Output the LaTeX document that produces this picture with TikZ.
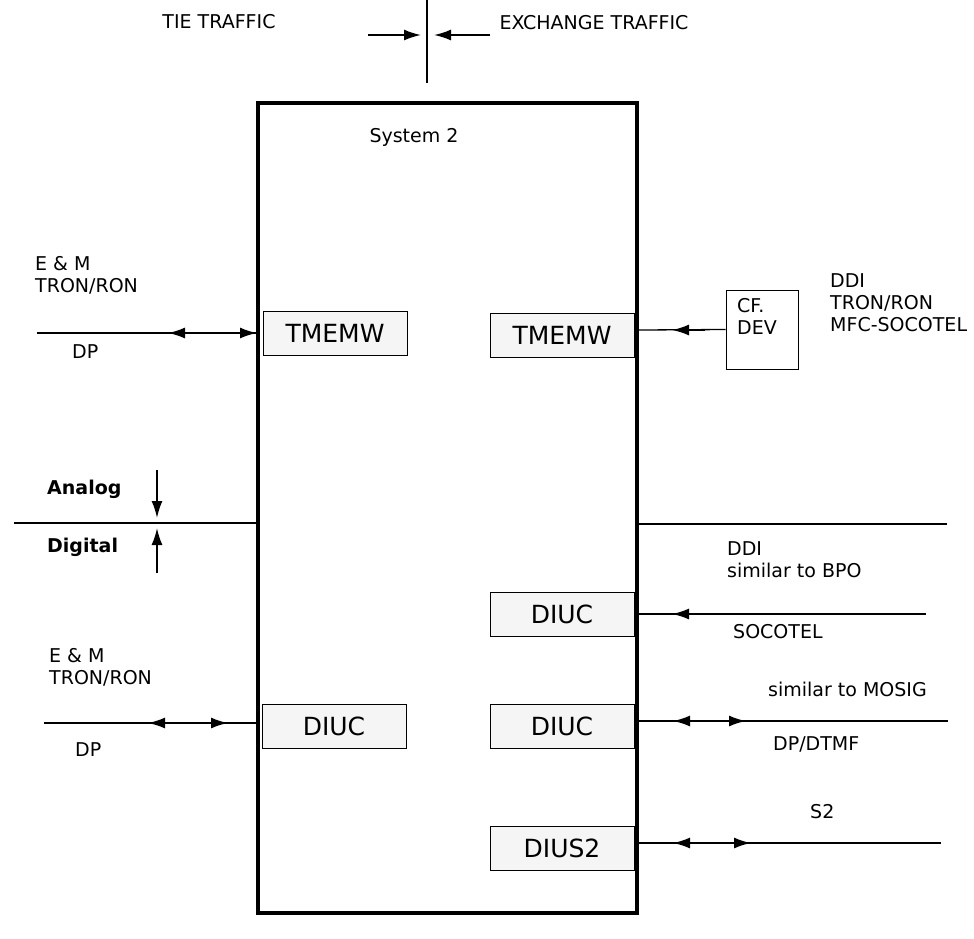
\documentclass[tikz,border=0pt]{standalone}
\usepackage{fontspec}
\setmainfont{DejaVu Sans}
\usetikzlibrary{arrows.meta}
\begin{document}
\begin{tikzpicture}[x=1pt,y=-1pt,
 ln/.style={line width=1.3pt},
 ar/.style={line width=1.8pt,-{Latex[length=17pt,width=11pt]}},
 dar/.style={line width=1.8pt,{Latex[length=17pt,width=11pt]}-{Latex[length=17pt,width=11pt]}},
 bx/.style={draw,line width=0.8pt,fill=gray!8,minimum width=144pt,minimum height=44pt,font=\fontsize{25}{28}\selectfont,inner sep=0pt},
 tx/.style={font=\fontsize{19}{22}\selectfont,anchor=west,inner sep=0pt},
 bt/.style={tx,font=\fontsize{19}{22}\selectfont\bfseries}]
\useasboundingbox (0,0) rectangle (974,938);
\node[draw,line width=3.5pt,minimum width=379pt,minimum height=810pt,inner sep=0pt] (sys) at (447.5,508) {};
\node[font=\fontsize{19}{22}\selectfont] (s2) at (414,137) {System 2};
% top
\coordinate (t1) at (427,0); \coordinate (t2) at (427,83);
\draw[ln] (t1) -- (t2);
\coordinate (a1) at (368,35); \coordinate (a2) at (421,35);
\coordinate (b1) at (490,35); \coordinate (b2) at (434,35);
\draw[ar] (a1) -- (a2); \draw[ar] (b1) -- (b2);
\node[font=\fontsize{19}{22}\selectfont] (tie) at (219,22) {TIE TRAFFIC};
\node[font=\fontsize{19}{22}\selectfont] (exc) at (594,23) {EXCHANGE TRAFFIC};
% left TMEMW
\node[bx] (lt) at (335,333) {TMEMW};
\coordinate (l1) at (37,333); \coordinate (l1a) at (168,333);
\draw[ln] (l1) -- (258,333); \draw[dar] (l1a) -- (257,333);
\node[tx] (em1) at (35,264) {E \& M};
\node[tx] (tr1) at (35,286) {TRON/RON};
\node[tx] (dp1) at (72,352) {DP};
% right TMEMW
\node[bx] (rt) at (562,335) {TMEMW};
\node[draw,line width=1pt,minimum width=72pt,minimum height=79pt,inner sep=0pt] (cf) at (762,329.5) {};
\node[tx,align=left] (cft) at (737,316) {CF.\\DEV};
\coordinate (r1) at (639,330);
\draw[ln] (r1) -- (cf.west);
\draw[ar] (705,330) -- (672,330);
\node[tx,align=left] (ddi1) at (830,303) {DDI\\TRON/RON\\MFC-SOCOTEL};
% analog/digital
\coordinate (ad1) at (14,523);
\draw[ln] (ad1) -- (258,523);
\node[bt] (an) at (47,489) {Analog};
\node[bt] (di) at (47,547) {Digital};
\coordinate (u1) at (157,470); \coordinate (u2) at (157,518);
\coordinate (d1) at (157,573); \coordinate (d2) at (157,528);
\draw[ar] (u1) -- (u2); \draw[ar] (d1) -- (d2);
\coordinate (rl1) at (639,524); \coordinate (rl2) at (947,524);
\draw[ln] (rl1) -- (rl2);
\node[tx,align=left] (ddi2) at (727,560) {DDI\\similar to BPO};
% DIUC right 1
\node[bx] (d1b) at (562,614) {DIUC};
\coordinate (e1) at (926,614);
\draw[ln] (e1) -- (639,614);
\draw[ar] (705,614) -- (672,614);
\node[tx] (soc) at (733,632) {SOCOTEL};
% DIUC right 2
\node[tx] (mos) at (768,689) {similar to MOSIG};
\node[bx] (d2b) at (562,726) {DIUC};
\coordinate (e2) at (948,721);
\draw[ln] (639,721) -- (e2);
\draw[dar] (673,721) -- (746,721);
\node[tx] (dtmf) at (773,744) {DP/DTMF};
% DIUS2
\node[tx] (s2t) at (810,812) {S2};
\node[bx] (ds) at (562,848) {DIUS2};
\coordinate (e3) at (941,843);
\draw[ln] (639,843) -- (e3);
\draw[dar] (673,843) -- (751,843);
% left DIUC
\node[bx] (ld) at (334,726) {DIUC};
\coordinate (l2) at (44,723);
\draw[ln] (l2) -- (258,723);
\draw[dar] (148,723) -- (228,723);
\node[tx] (em2) at (49,656) {E \& M};
\node[tx] (tr2) at (49,678) {TRON/RON};
\node[tx] (dp2) at (75,750) {DP};
\end{tikzpicture}
\end{document}
